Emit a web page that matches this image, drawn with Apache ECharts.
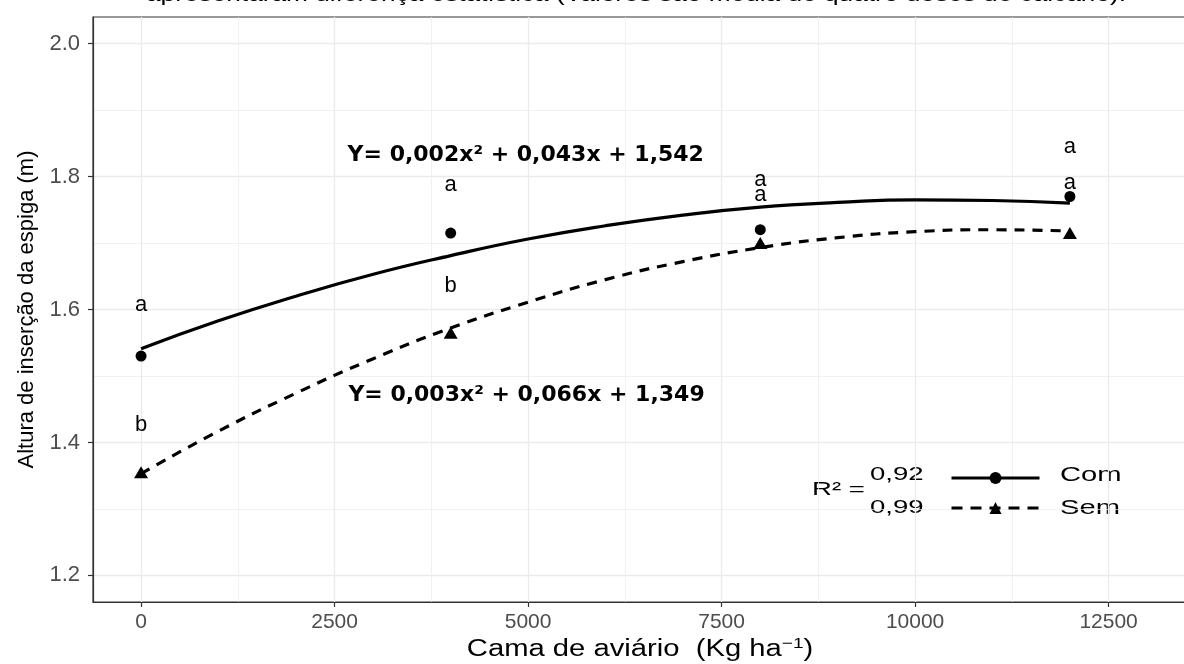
<!DOCTYPE html>
<html>
<head>
<meta charset="utf-8">
<script src="https://cdn.jsdelivr.net/npm/echarts@6/dist/echarts.min.js"></script>
<style>
html,body{margin:0;padding:0;background:#ffffff;}
#c{width:1184px;height:664px;}
</style>
</head>
<body>
<div id="c"></div>
<script>
// ---- data ----
const doses = [0, 4000, 8000, 12000];
const comPoints = [1.530, 1.715, 1.720, 1.770];
const semPoints = [1.355, 1.565, 1.700, 1.715];

const curveX = [0, 1000, 2000, 3000, 4000, 5000, 6000, 7000, 8000, 9000, 10000, 11000, 12000];
const comCurve = [1.541, 1.583, 1.620, 1.653, 1.681, 1.706, 1.726, 1.742, 1.754, 1.761, 1.765, 1.764, 1.760];
const semCurve = [1.353, 1.417, 1.474, 1.526, 1.572, 1.611, 1.645, 1.672, 1.693, 1.708, 1.717, 1.720, 1.718];

const letterX = [0, 0, 4000, 4000, 8000, 8000, 12000, 12000];
const letterY = [1.607, 1.426, 1.787, 1.635, 1.795, 1.773, 1.844, 1.790];
const letterText = ['a', 'b', 'a', 'b', 'a', 'a', 'a', 'a'];

const eqX = [4970, 4980];
const eqY = [1.832, 1.471];
const eqText = ['Y= 0,002x² + 0,043x + 1,542', 'Y= 0,003x² + 0,066x + 1,349'];

const xTicks = [0, 2500, 5000, 7500, 10000, 12500];
const xMinor = [1250, 3750, 6250, 8750, 11250];
const yTicks = [1.2, 1.4, 1.6, 1.8, 2.0];
const yMinor = [1.3, 1.5, 1.7, 1.9];

const seriesNames = ['Com', 'Sem'];
const r2Values = ['0,92', '0,99'];
const titleText = 'apresentaram diferença estatística (Valores são média de quatro doses de calcário).';
const yTitle = 'Altura de inserção da espiga (m)';

// ---- chart ----
const FONT = "'Liberation Sans', Arial, sans-serif";
const pairs = (xs, ys) => xs.map((x, i) => [x, ys[i]]);
const X_MIN = -621, X_MAX = 13500, Y_MIN = 1.16, Y_MAX = 2.04;

const chart = echarts.init(document.getElementById('c'), null, {renderer: 'canvas', width: 1184, height: 664});

const option = {
  animation: false,
  backgroundColor: '#ffffff',
  grid: {left: 93, top: 17, right: -2, bottom: 62, show: true, borderColor: '#333333', borderWidth: 1.2,
         backgroundColor: 'transparent', outerBoundsMode: 'none', containLabel: false},
  legend: {
    data: [
      {name: seriesNames[0], lineStyle: {width: 3, color: '#000000', type: 'solid'}, itemStyle: {color: '#000000', opacity: 1}},
      {name: seriesNames[1], lineStyle: {width: 3, color: '#000000', type: [11, 8]}, itemStyle: {color: '#000000', opacity: 1}}
    ],
    orient: 'vertical', left: 945, top: 467,
    itemWidth: 88, itemHeight: 15, itemGap: 18,
    formatter: () => '', textStyle: {fontSize: 10, lineHeight: 10},
    selectedMode: false
  },
  xAxis: [
    {type: 'value', min: X_MIN, max: X_MAX, position: 'bottom',
     axisLine: {show: true, onZero: false, lineStyle: {color: '#333333', width: 1.2}},
     axisTick: {show: true, customValues: xTicks, length: 5, lineStyle: {color: '#333333', width: 1.2}},
     axisLabel: {customValues: xTicks, color: '#4D4D4D', fontSize: 21, fontFamily: FONT, margin: 10,
                 formatter: v => String(v)},
     splitLine: {show: true, lineStyle: {color: '#EBEBEB', width: 1.3}}},
    {type: 'value', min: X_MIN, max: X_MAX, position: 'top',
     axisLine: {show: false}, axisTick: {show: false, customValues: xMinor},
     axisLabel: {show: false, customValues: xMinor},
     splitLine: {show: true, lineStyle: {color: '#EBEBEB', width: 0.7}}}
  ],
  yAxis: [
    {type: 'value', min: Y_MIN, max: Y_MAX, position: 'left',
     axisLine: {show: true, onZero: false, lineStyle: {color: '#333333', width: 1.2}},
     axisTick: {show: true, customValues: yTicks, length: 5, lineStyle: {color: '#333333', width: 1.2}},
     axisLabel: {customValues: yTicks, color: '#4D4D4D', fontSize: 22, fontFamily: FONT, margin: 13,
                 formatter: v => Number(v).toFixed(1)},
     splitLine: {show: true, lineStyle: {color: '#EBEBEB', width: 1.3}},
     name: yTitle, nameLocation: 'middle', nameGap: 55,
     nameTextStyle: {color: '#000000', fontSize: 22, fontFamily: FONT}},
    {type: 'value', min: Y_MIN, max: Y_MAX, position: 'right',
     axisLine: {show: false}, axisTick: {show: false, customValues: yMinor},
     axisLabel: {show: false, customValues: yMinor},
     splitLine: {show: true, lineStyle: {color: '#EBEBEB', width: 0.7}}}
  ],
  series: [
    {name: seriesNames[0], type: 'line', data: pairs(curveX, comCurve), smooth: true,
     showSymbol: false, symbol: 'circle', symbolSize: 11,
     lineStyle: {color: '#000000', width: 3.2, opacity: 1}, itemStyle: {color: '#000000', opacity: 1}, z: 3},
    {name: seriesNames[1], type: 'line', data: pairs(curveX, semCurve), smooth: true,
     showSymbol: false, symbol: 'triangle', symbolSize: 14,
     lineStyle: {color: '#000000', width: 3.2, type: [10, 8], opacity: 1}, itemStyle: {color: '#000000', opacity: 1}, z: 3},
    {name: 'Com pontos', type: 'scatter', data: pairs(doses, comPoints), symbol: 'circle', symbolSize: 11,
     itemStyle: {color: '#000000', opacity: 1}, z: 4},
    {name: 'Sem pontos', type: 'scatter', data: pairs(doses, semPoints), symbol: 'triangle', symbolSize: [14, 12],
     itemStyle: {color: '#000000', opacity: 1}, z: 4},
    {name: 'letras', type: 'scatter', symbolSize: 1, itemStyle: {color: 'rgba(0,0,0,0)', opacity: 1},
     data: letterX.map((x, i) => [x, letterY[i], letterText[i]]),
     label: {show: true, position: 'inside', formatter: p => p.data[2], color: '#000000', opacity: 1,
             fontSize: 22, fontFamily: FONT}, z: 5},
    {name: 'equacoes', type: 'scatter', symbolSize: 1, itemStyle: {color: 'rgba(0,0,0,0)', opacity: 1},
     data: eqX.map((x, i) => [x, eqY[i], eqText[i]]),
     label: {show: true, position: 'inside', formatter: p => p.data[2], color: '#000000', opacity: 1,
             fontSize: 22, fontWeight: 'bold', fontFamily: "'DejaVu Sans', Verdana, sans-serif"}, z: 5}
  ],
  graphic: [
    {type: 'text', x: 636, y: 6, scaleX: 1.25,
     style: {text: titleText, x: 0, y: 0, align: 'center', verticalAlign: 'bottom',
             fontSize: 21, fontFamily: FONT, fill: '#000000'}},
    {type: 'text', x: 640, y: 636, scaleX: 1.27,
     style: {text: 'Cama de aviário  (Kg ha{sup|−1})', x: 0, y: 0, align: 'center', verticalAlign: 'top',
             fontSize: 23, fontFamily: FONT, fill: '#000000',
             rich: {sup: {fontSize: 15, fontFamily: FONT, fill: '#000000', verticalAlign: 'top', padding: [0, 0, 12, 0]}}}},
    {type: 'text', x: 812, y: 490, scaleX: 1.45,
     style: {text: 'R² =', x: 0, y: 0, align: 'left', verticalAlign: 'middle', fontSize: 19, fontFamily: FONT, fill: '#000000'}},
    {type: 'text', x: 870, y: 475, scaleX: 1.45,
     style: {text: r2Values[0], x: 0, y: 0, align: 'left', verticalAlign: 'middle', fontSize: 19, fontFamily: FONT, fill: '#000000'}},
    {type: 'text', x: 870, y: 508, scaleX: 1.45,
     style: {text: r2Values[1], x: 0, y: 0, align: 'left', verticalAlign: 'middle', fontSize: 19, fontFamily: FONT, fill: '#000000'}},
    {type: 'text', x: 1060, y: 475, scaleX: 1.39,
     style: {text: seriesNames[0], x: 0, y: 0, align: 'left', verticalAlign: 'middle', fontSize: 21, fontFamily: FONT, fill: '#000000'}},
    {type: 'text', x: 1060, y: 508, scaleX: 1.39,
     style: {text: seriesNames[1], x: 0, y: 0, align: 'left', verticalAlign: 'middle', fontSize: 21, fontFamily: FONT, fill: '#000000'}}
  ]
};
chart.setOption(option);
</script>
</body>
</html>
